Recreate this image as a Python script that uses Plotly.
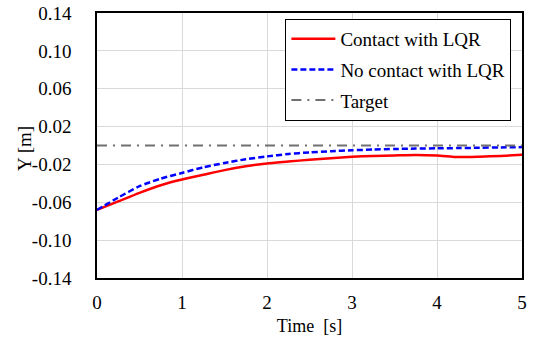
import plotly.graph_objects as go

time_s = [0, 0.25, 0.5, 0.75, 1, 1.25, 1.5, 1.75, 2, 2.25, 2.5, 2.75, 3,
          3.25, 3.5, 3.75, 4, 4.25, 4.5, 4.75, 5]
contact_lqr = [-0.068, -0.059, -0.050, -0.042, -0.036, -0.031, -0.026, -0.022,
               -0.019, -0.017, -0.015, -0.0135, -0.012, -0.011, -0.0105, -0.0100,
               -0.0105, -0.0122, -0.0118, -0.011, -0.0098]
no_contact_lqr = [-0.068, -0.055, -0.043, -0.035, -0.029, -0.023, -0.0185, -0.0145,
                  -0.0115, -0.009, -0.0073, -0.006, -0.005, -0.0043, -0.0037, -0.0033,
                  -0.003, -0.0027, -0.0024, -0.002, -0.0017]
target_t = [0, 5]
target_y = [0, 0]

y_ticks = [-0.14, -0.10, -0.06, -0.02, 0.02, 0.06, 0.10, 0.14]
y_ticktext = ["-0.14", "-0.10", "-0.06", "-0.02", "0.02", "0.06", "0.10", "0.14"]
x_ticks = [0, 1, 2, 3, 4, 5]

FONT = "Liberation Serif"

fig = go.Figure()
fig.add_trace(go.Scatter(x=time_s, y=contact_lqr, mode="lines", name="Contact with LQR",
                         legendgroup="a", line=dict(color="#ff0000", width=2.5, shape="spline", smoothing=0.6)))
fig.add_trace(go.Scatter(x=time_s, y=no_contact_lqr, mode="lines", name="No contact with LQR",
                         legendgroup="b", line=dict(color="#0000ff", width=2.5, dash="6px,3px", shape="spline", smoothing=0.6)))
fig.add_trace(go.Scatter(x=target_t, y=target_y, mode="lines", name="Target",
                         legendgroup="c", line=dict(color="#707070", width=2, dash="10px,6px,2px,6px")))

fig.update_layout(
    width=533, height=347,
    margin=dict(l=97, r=11, t=13, b=69, autoexpand=False),
    paper_bgcolor="white", plot_bgcolor="white",
    font=dict(family=FONT, size=18, color="black"),
    showlegend=True,
    legend=dict(x=0.975, y=0.978, xanchor="right", yanchor="top",
                bgcolor="white", bordercolor="black", borderwidth=1,
                font=dict(family=FONT, size=19, color="black"),
                itemwidth=44, tracegroupgap=3),
    xaxis=dict(range=[0, 5], tickvals=x_ticks, showgrid=True, gridcolor="#d9d9d9", gridwidth=1,
               showline=True, linecolor="black", linewidth=1.5, mirror=True, zeroline=False,
               ticks="outside", ticklen=6, tickcolor="rgba(0,0,0,0)", automargin=False,
               ticklabeloverflow="allow",
               title=dict(text="Time  [s]", font=dict(family=FONT, size=18), standoff=8),
               tickfont=dict(family=FONT, size=19)),
    yaxis=dict(range=[-0.14, 0.14], tickvals=y_ticks, ticktext=y_ticktext, showgrid=True,
               gridcolor="#d9d9d9", gridwidth=1,
               showline=True, linecolor="black", linewidth=1.5, mirror=True, zeroline=False,
               ticks="outside", ticklen=20, tickcolor="rgba(0,0,0,0)", automargin=False,
               ticklabeloverflow="allow",
               tickfont=dict(family=FONT, size=19)),
    annotations=[dict(text="Y [m]", xref="paper", yref="paper", x=-0.169, y=0.487,
                      xanchor="center", yanchor="middle", textangle=-90, showarrow=False,
                      font=dict(family=FONT, size=19, color="black"))],
)

fig.write_html("out.html", config={"displayModeBar": False},
               post_script="document.body.style.margin='0px';")
